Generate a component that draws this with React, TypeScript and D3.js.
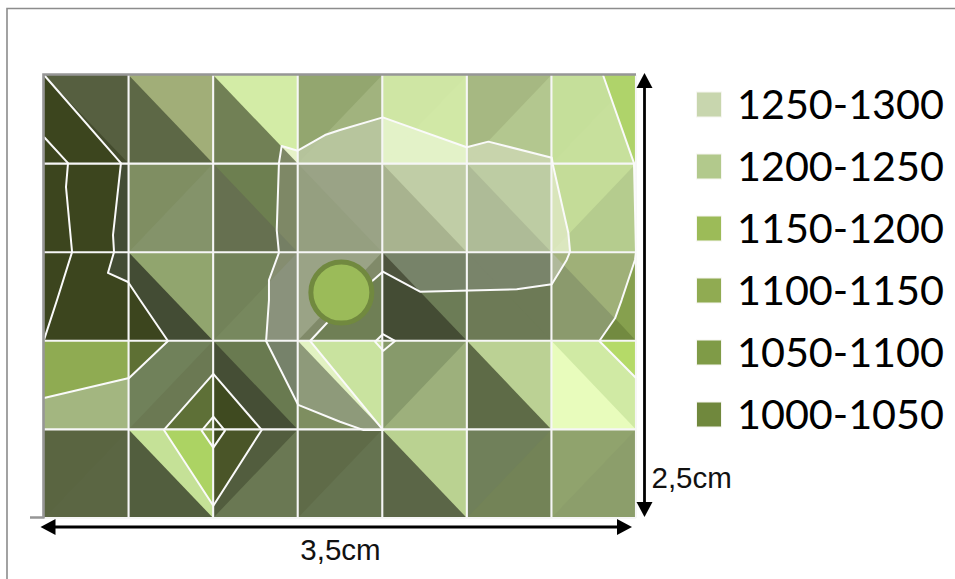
import React from "react";
import * as d3 from "d3";

type Pt = [number, number];

// Cell diagonals, row by row: "\\" splits upper-right / lower-left, "/" splits upper-left / lower-right
const diagonals = [
  ["\\", "\\", "\\", "/", "/", "/", "/"],
  ["/", "/", "\\", "\\", "\\", "\\", "/"],
  ["/", "\\", "/", "/", "\\", "\\", "\\"],
  ["/", "/", "\\", "\\", "/", "\\", "\\"],
  ["/", "\\", "/", "/", "\\", "/", "/"],
];
const upperTones = [
  ["#565f40", "#a1ae78", "#d3eca6", "#93a66f", "#cfe6a4", "#a6b882", "#c5df9a"],
  ["#434c34", "#7f8e62", "#6d7f50", "#9aa386", "#c0cda6", "#bdcca3", "#c4dc98"],
  ["#434c34", "#91a56e", "#728259", "#9aa386", "#6c7c56", "#6d7a56", "#9fb078"],
  ["#a3b680", "#70815a", "#697a50", "#c9e39f", "#879a6b", "#bbd194", "#d0eaa4"],
  ["#5a6541", "#c5e197", "#525d3e", "#5f6b48", "#bad291", "#70805a", "#90a36d"],
];
const lowerTones = [
  ["#444c2e", "#5d6846", "#718055", "#a1b37e", "#d1e8a6", "#b3c78f", "#c7e09c"],
  ["#434c34", "#84936a", "#667050", "#959f80", "#a8b38f", "#aebb97", "#b5cc8e"],
  ["#434c34", "#434c34", "#77885e", "#6f7f55", "#444c34", "#6d7a56", "#8b9a6d"],
  ["#a3b680", "#6b7953", "#454e35", "#7e8e60", "#9db07c", "#5e6b47", "#e8fcbc"],
  ["#5b6643", "#525e3e", "#6a7853", "#657350", "#5b6647", "#738357", "#8c9e6b"],
];
// The same cells as seen through the pale central band
const upperInside: (string | null)[][] = [
  [null, null, "#e6f2c8", "#b5c39b", "#e3f2c8", "#c8d4ac", null],
  [null, null, "#7e8866", "#9aa386", "#c0cda6", "#bdcca3", "#d9e5bb"],
  [null, null, "#858d70", "#9aa386", "#778369", "#79846a", "#a5b380"],
  [null, null, "#76826a", "#e2f2c2", null, null, null],
  [null, null, null, null, null, null, null],
];
const lowerInside: (string | null)[][] = [
  [null, null, "#7e8866", "#b7c59d", "#e3f2c8", "#c8d4ac", null],
  [null, null, "#757f64", "#959f80", "#a8b38f", "#aebb97", "#dbe7bf"],
  [null, null, "#8a927c", "#808a69", "#4e543e", "#79846a", "#b0b99b"],
  [null, null, "#76826a", "#8e9a7a", null, null, null],
  [null, null, null, null, null, null, null],
];

// Iso-lines, in centimetres from the top-left corner of the plate
const outerLeftLine: Pt[] = [[0, 0], [0.455, 0.497], [0.408, 0.903], [0.414, 0.999], [0.378, 1.117], [0.497, 1.168], [0.568, 1.27], [0.733, 1.501], [0.503, 1.71], [0, 1.823]];
const innerLeftLine: Pt[] = [[0, 0.35], [0.142, 0.497], [0.13, 0.632], [0.166, 0.999], [0.077, 1.27], [0, 1.495]];
const centralBand: Pt[] = [[1.405, 0.401], [1.5, 0.427], [1.661, 0.339], [1.75, 0.31], [2.003, 0.239], [2.499, 0.408], [2.627, 0.376], [3.002, 0.467], [3.009, 0.508], [3.1, 0.892], [3.11, 0.997], [3.09, 1.044], [3.002, 1.181], [2.795, 1.209], [2.223, 1.223], [2.003, 1.11], [1.937, 1.166], [1.671, 1.401], [1.573, 1.501], [2.004, 2.003], [1.886, 2.003], [1.75, 1.957], [1.503, 1.862], [1.313, 1.501], [1.33, 1.27], [1.33, 1.157], [1.389, 1.003], [1.376, 0.875], [1.389, 0.497]];
const rightLine: Pt[] = [[3.305, 0], [3.488, 0.497], [3.5, 0.999], [3.494, 1.044], [3.415, 1.27], [3.376, 1.373], [3.283, 1.501], [3.5, 1.71]];
const outerDiamond: Pt[] = [[1.001, 1.687], [1.287, 2.003], [1.001, 2.431], [0.709, 2.003]];
const innerDiamond: Pt[] = [[1.001, 1.928], [1.07, 2.007], [1.001, 2.103], [0.932, 2.007]];
const smallDiamond: Pt[] = [[1.957, 1.505], [2.003, 1.463], [2.075, 1.501], [2.006, 1.556]];

// Flat patches between the iso-lines
const patches: { tone: string; pts: Pt[] }[] = [
  { tone: "#3c451e", pts: [...outerLeftLine.slice(0, 8), [0, 1.5]] },
  { tone: "#5e7034", pts: [[0.5, 1.5], [0.733, 1.501], [0.503, 1.71]] },
  { tone: "#8fab52", pts: [[0, 1.5], [0.5, 1.5], [0.503, 1.71], [0, 1.823]] },
  { tone: "#afd36a", pts: [[3.305, 0], [3.5, 0], [3.5, 0.5], [3.488, 0.497]] },
  { tone: "#86a04e", pts: [[3.494, 1.044], [3.415, 1.27], [3.376, 1.373], [3.283, 1.5], [3.5, 1.5], [3.5, 1.044]] },
  { tone: "#728a40", pts: [[3.283, 1.5], [3.376, 1.373], [3.5, 1.5]] },
  { tone: "#b5da68", pts: [[3.283, 1.5], [3.5, 1.5], [3.5, 1.71]] },
];
const outerQuadrantTones = ["#3f4a20", "#4a5528", "#acd363", "#5e7037"];
const innerQuadrantTones = ["#3f4a20", "#3d4a1c", "#92b04f", "#64773c"];
const diamondCentre: Pt = [1, 2];

const legendLabels = ["1250-1300", "1200-1250", "1150-1200", "1100-1150", "1050-1100", "1000-1050"];
const legendTones = ["#c8d6ae", "#b2c98c", "#9cbb58", "#90ab52", "#7f9b47", "#70883d"];
const marker: Pt = [1.758, 1.228];
const plateWidthCm = 3.5;
const plateHeightCm = 2.5;
const cellCm = 0.5;

const x = d3.scaleLinear().domain([0, plateWidthCm]).range([44, 636]);
const y = d3.scaleLinear().domain([0, plateHeightCm]).range([75, 518]);
const legendY = d3.scaleLinear().domain([0, 5]).range([104.5, 414.5]);

const line = d3.line<Pt>().x((d) => x(d[0])).y((d) => y(d[1]));
const closed = d3.line<Pt>().x((d) => x(d[0])).y((d) => y(d[1])).curve(d3.curveLinearClosed);

function upperTriangle(col: number, row: number): Pt[] {
  const l = col * cellCm, r = l + cellCm, t = row * cellCm, b = t + cellCm;
  return diagonals[row][col] === "\\" ? [[l, t], [r, t], [r, b]] : [[l, t], [r, t], [l, b]];
}
function wholeCell(col: number, row: number): Pt[] {
  const l = col * cellCm, r = l + cellCm, t = row * cellCm, b = t + cellCm;
  return [[l, t], [r, t], [r, b], [l, b]];
}

const cells = diagonals.flatMap((r, row) => r.map((_, col) => ({ row, col })));
const quadrants = (d: Pt[]): Pt[][] => [
  [diamondCentre, d[0], d[1]],
  [diamondCentre, d[1], d[2]],
  [diamondCentre, d[2], d[3]],
  [diamondCentre, d[3], d[0]],
];

const Arrow = ({ to, angle }: { to: Pt; angle: number }) => {
  const len = 15, hw = 8;
  const bx = to[0] - len * Math.cos(angle), by = to[1] - len * Math.sin(angle);
  const p1 = `${bx - hw * Math.sin(angle)},${by + hw * Math.cos(angle)}`;
  const p2 = `${bx + hw * Math.sin(angle)},${by - hw * Math.cos(angle)}`;
  return <polygon points={`${to[0]},${to[1]} ${p1} ${p2}`} fill="#000" />;
};

export default function App() {
  const gridX = d3.range(1, plateWidthCm / cellCm + 1).map((i) => i * cellCm);
  const gridY = d3.range(1, plateHeightCm / cellCm + 1).map((i) => i * cellCm);
  return (
    <svg width={955} height={579} style={{ position: "absolute", left: 0, top: 0, background: "#fff" }}>
      <path d="M955,8.5H7V579" fill="none" stroke="#8c8c8c" strokeWidth={1.6} />
      <defs>
        <clipPath id="band"><path d={closed(centralBand) ?? ""} /></clipPath>
      </defs>

      {cells.map(({ row, col }) => (
        <g key={`c${row}-${col}`}>
          <path d={closed(wholeCell(col, row)) ?? ""} fill={lowerTones[row][col]} />
          <path d={closed(upperTriangle(col, row)) ?? ""} fill={upperTones[row][col]} />
        </g>
      ))}

      {patches.map((p, i) => <path key={`p${i}`} d={closed(p.pts) ?? ""} fill={p.tone} />)}

      <g clipPath="url(#band)">
        {cells.map(({ row, col }) => {
          const ua = upperInside[row][col], ub = lowerInside[row][col];
          return (
            <g key={`i${row}-${col}`}>
              {ub && <path d={closed(wholeCell(col, row)) ?? ""} fill={ub} />}
              {ua && <path d={closed(upperTriangle(col, row)) ?? ""} fill={ua} />}
            </g>
          );
        })}
      </g>

      {quadrants(outerDiamond).map((q, i) => <path key={`o${i}`} d={closed(q) ?? ""} fill={outerQuadrantTones[i]} />)}
      {quadrants(innerDiamond).map((q, i) => <path key={`n${i}`} d={closed(q) ?? ""} fill={innerQuadrantTones[i]} />)}

      {gridX.map((v) => <line key={`gx${v}`} x1={x(v)} x2={x(v)} y1={y(0)} y2={y(plateHeightCm)} stroke="#f6f6f6" strokeWidth={2.1} />)}
      {gridY.map((v) => <line key={`gy${v}`} x1={x(0)} x2={x(plateWidthCm)} y1={y(v)} y2={y(v)} stroke="#f6f6f6" strokeWidth={2.1} />)}

      <g fill="none" stroke="#fafafa" strokeWidth={2} strokeLinejoin="round">
        <path d={line(outerLeftLine) ?? ""} />
        <path d={line(innerLeftLine) ?? ""} />
        <path d={closed(centralBand) ?? ""} />
        <path d={line(rightLine) ?? ""} />
        <path d={closed(outerDiamond) ?? ""} />
        <path d={closed(innerDiamond) ?? ""} />
        <path d={closed(smallDiamond) ?? ""} />
      </g>

      <path d={`M636,74.5H43.5V518.5M30,517.5H44`} fill="none" stroke="#969696" strokeWidth={2.6} />

      <circle cx={x(marker[0])} cy={y(marker[1])} r={30.5} fill="#9bbb59" stroke="#71893f" strokeWidth={5} />

      <line x1={50} x2={622} y1={527} y2={527} stroke="#000" strokeWidth={2.8} />
      <Arrow to={[40.5, 527]} angle={Math.PI} />
      <Arrow to={[632, 527]} angle={0} />
      <line x1={644.5} x2={644.5} y1={84} y2={506} stroke="#000" strokeWidth={2.8} />
      <Arrow to={[644.5, 73]} angle={-Math.PI / 2} />
      <Arrow to={[644.5, 517]} angle={Math.PI / 2} />

      <g fontFamily="'Liberation Sans', Arial, sans-serif" fontSize={29.5} fill="#111">
        <text x={340.5} y={560} textAnchor="middle">3,5cm</text>
        <text x={651.5} y={488}>2,5cm</text>
      </g>

      {legendLabels.map((label, i) => (
        <g key={label}>
          <rect x={696.5} y={legendY(i) - 12.5} width={25} height={25} fill={legendTones[i]} stroke="#f6f6f0" strokeWidth={1} />
          <text x={737} y={legendY(i) + 14.5} fontFamily="Lato, sans-serif" fontSize={41} fill="#000" textLength={207} lengthAdjust="spacingAndGlyphs">{label}</text>
        </g>
      ))}
    </svg>
  );
}
